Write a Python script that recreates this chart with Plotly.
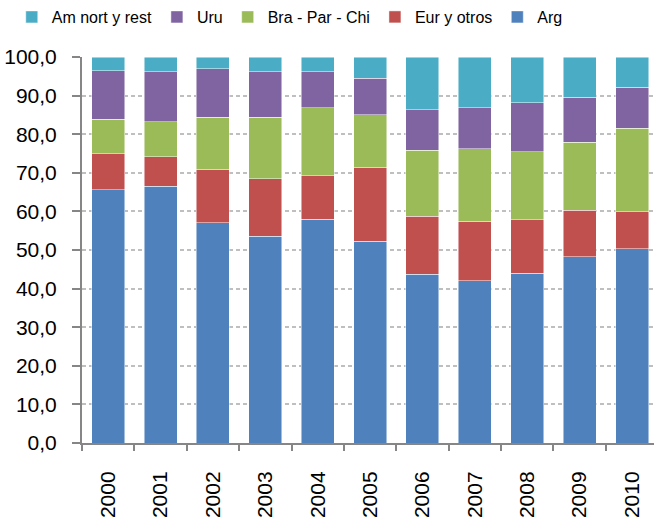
import plotly.graph_objects as go

years = ["2000", "2001", "2002", "2003", "2004", "2005", "2006", "2007", "2008", "2009", "2010"]
arg = [65.6, 66.5, 57.1, 53.5, 58.0, 52.3, 43.7, 42.0, 44.0, 48.2, 50.3]
eur = [9.3, 7.7, 13.8, 15.0, 11.2, 19.1, 15.0, 15.4, 13.8, 12.1, 9.6]
bra = [9.0, 9.0, 13.5, 15.9, 17.7, 13.7, 17.2, 18.8, 17.6, 17.6, 21.6]
uru = [12.6, 13.0, 12.6, 11.8, 9.3, 9.4, 10.5, 10.6, 12.7, 11.7, 10.6]
amn = [3.5, 3.8, 3.0, 3.8, 3.8, 5.5, 13.6, 13.2, 11.9, 10.4, 7.9]

series_names = ["Arg", "Eur y otros", "Bra - Par - Chi", "Uru", "Am nort y rest"]
series_values = [arg, eur, bra, uru, amn]
series_colors = ["#4F81BD", "#C0504D", "#9BBB59", "#8064A2", "#4BACC6"]

y_tickvals = [0, 10, 20, 30, 40, 50, 60, 70, 80, 90, 100]
y_ticktext = ["0,0", "10,0", "20,0", "30,0", "40,0", "50,0", "60,0", "70,0", "80,0", "90,0", "100,0"]

FONT = "Liberation Sans"

fig = go.Figure()
for name, vals, col in zip(series_names, series_values, series_colors):
    fig.add_trace(go.Bar(
        x=years, y=vals, name=name,
        marker=dict(color=col, line=dict(color="rgba(255,255,255,0.6)", width=0.8)),
    ))

fig.update_layout(
    width=654, height=520,
    barmode="stack", bargap=0.37,
    paper_bgcolor="white", plot_bgcolor="white",
    margin=dict(l=82, r=0, t=57, b=77),
    font=dict(family=FONT, color="black"),
    showlegend=True,
    legend=dict(
        orientation="h", traceorder="reversed",
        xref="container", yref="container",
        x=0.018, xanchor="left", y=1.0, yanchor="top",
        font=dict(family=FONT, size=16, color="black"),
        itemwidth=30,
    ),
)

fig.update_xaxes(
    type="category", range=[-0.5, 10.42], automargin=False,
    tickangle=-90, tickfont=dict(size=21, family=FONT, color="black"),
    showline=True, linecolor="#868686", linewidth=2,
    ticks="outside", tickson="boundaries", ticklen=6, tickcolor="#868686", tickwidth=1.5,
    ticklabelstandoff=18,
    showgrid=False,
)
fig.update_yaxes(
    range=[0, 100], tickvals=y_tickvals, ticktext=y_ticktext, automargin=False,
    tickfont=dict(size=21, family=FONT, color="black"),
    showline=True, linecolor="#868686", linewidth=2,
    ticks="outside", ticklen=8, tickcolor="#868686", tickwidth=1.5,
    ticklabelstandoff=11,
    showgrid=True, gridcolor="#BFBFBF", gridwidth=1.5, griddash="4px,3px",
    zeroline=False,
)

fig.write_html("out.html", config={"displayModeBar": False},
               post_script="document.body.style.margin='0px';")
